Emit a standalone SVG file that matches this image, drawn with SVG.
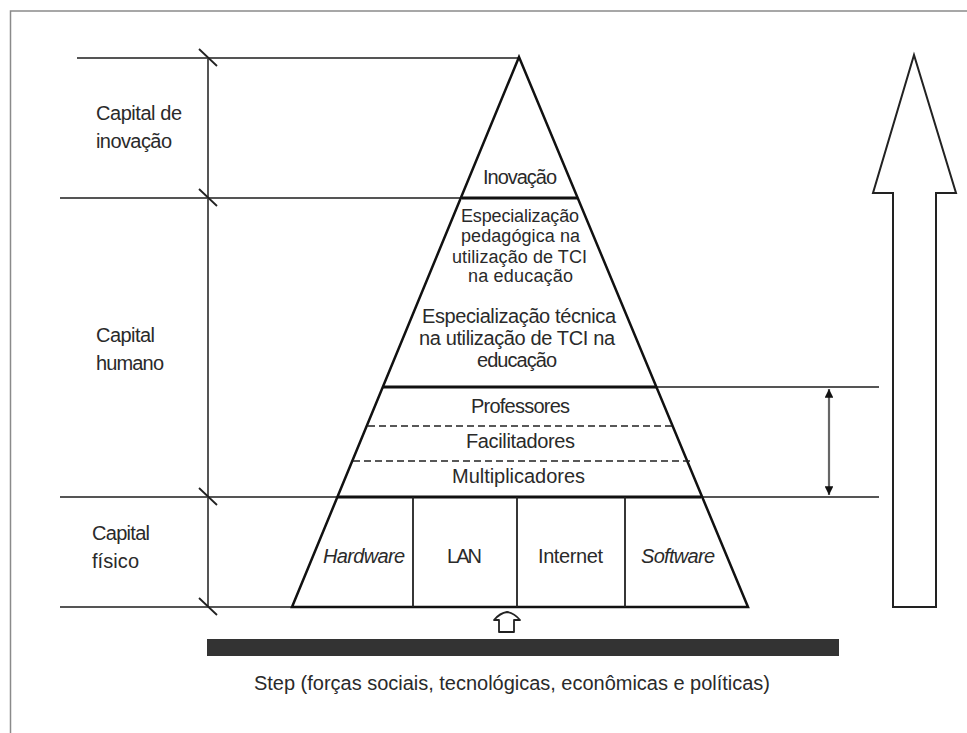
<svg xmlns="http://www.w3.org/2000/svg" width="967" height="733" viewBox="0 0 967 733">
<style>
text{font-family:"Liberation Sans",Arial,sans-serif;font-size:20px;fill:#2a2a2a;lengthAdjust:spacingAndGlyphs}
.it{font-style:italic}
.sm{font-size:18px}
.thin{stroke:#555;stroke-width:2;fill:none}
.edge{stroke:#111;stroke-width:2.5;fill:none;stroke-linejoin:miter}
.thick{stroke:#111;stroke-width:3;fill:none}
.div{stroke:#222;stroke-width:1.8;fill:none}
.dash{stroke:#222;stroke-width:1.6;stroke-dasharray:7 4;fill:none}
.tick{stroke:#222;stroke-width:1.8}
</style>
<defs>
<marker id="ah" viewBox="0 0 10 10" refX="10" refY="5" markerWidth="4" markerHeight="4" orient="auto-start-reverse" markerUnits="strokeWidth">
<path d="M0,0 L10,5 L0,10 z" fill="#111"/>
</marker>
</defs>
<rect width="967" height="733" fill="#fff"/>
<g id="frame"><path d="M10.5,733 V11 H967" stroke="#8a8a8a" stroke-width="1.5" fill="none"/></g>
<g id="connectors">
<path class="thin" d="M77,58 H519 M60,198 H463 M656,387 H879 M60,497 H338 M700,497 H879 M60,607 H292 M208,58 V607"/>
<path class="tick" d="M199,49 L217,66 M199,189 L217,206 M199,488 L217,505 M199,598 L217,615"/>
<line x1="829" y1="389" x2="829" y2="495" stroke="#666" stroke-width="2.2" marker-start="url(#ah)" marker-end="url(#ah)"/>
</g>
<g id="pyramid">
<path class="edge" d="M292,607 L519,57 L748,607 Z"/>
<path class="thick" d="M462,198 H577 M383,387 H656 M337,497 H701"/>
<path class="dash" d="M368,426 H672 M353,461 H691"/>
<path class="div" d="M413,497 V607 M517,497 V607 M625,497 V607"/>
</g>
<g id="labels-left">
<text x="96" y="120" textLength="86">Capital de</text>
<text x="96" y="148" textLength="76">inovação</text>
<text x="96" y="342" textLength="59">Capital</text>
<text x="96" y="370" textLength="68">humano</text>
<text x="92" y="540" textLength="58">Capital</text>
<text x="92" y="568" textLength="47">físico</text>
</g>
<g id="node-inovacao"><text x="483" y="184" textLength="74">Inovação</text></g>
<g id="node-esp-pedagogica">
<text class="sm" x="461" y="222" textLength="118">Especialização</text>
<text class="sm" x="461" y="242" textLength="119">pedagógica na</text>
<text class="sm" x="452" y="263" textLength="135">utilização de TCI</text>
<text class="sm" x="468" y="282" textLength="105">na educação</text>
</g>
<g id="node-esp-tecnica">
<text x="422" y="323" textLength="194">Especialização técnica</text>
<text x="419" y="345" textLength="196">na utilização de TCI na</text>
<text x="477" y="367" textLength="80">educação</text>
</g>
<g id="node-professores"><text x="471" y="413" textLength="99">Professores</text></g>
<g id="node-facilitadores"><text x="466" y="448" textLength="109">Facilitadores</text></g>
<g id="node-multiplicadores"><text x="452" y="483" textLength="133">Multiplicadores</text></g>
<g id="node-hardware"><text class="it" x="323" y="563" textLength="82">Hardware</text></g>
<g id="node-lan"><text x="447" y="563" textLength="35">LAN</text></g>
<g id="node-internet"><text x="538" y="563" textLength="65">Internet</text></g>
<g id="node-software"><text class="it" x="641" y="563" textLength="74">Software</text></g>
<g id="small-arrow"><path d="M499,632 V620 H494 Q500,613 507,612 Q514,613 520,620 H514 V632 Z" fill="#fff" stroke="#222" stroke-width="1.8" stroke-linejoin="round"/></g>
<g id="big-arrow"><path d="M893,607 V193 H873 L914,55 L956,193 H936 V607 Z" fill="#fff" stroke="#222" stroke-width="2"/></g>
<g id="step-bar"><rect x="207" y="639" width="632" height="17" fill="#333"/></g>
<g id="step-label"><text x="254" y="690" textLength="516">Step (forças sociais, tecnológicas, econômicas e políticas)</text></g>
</svg>
